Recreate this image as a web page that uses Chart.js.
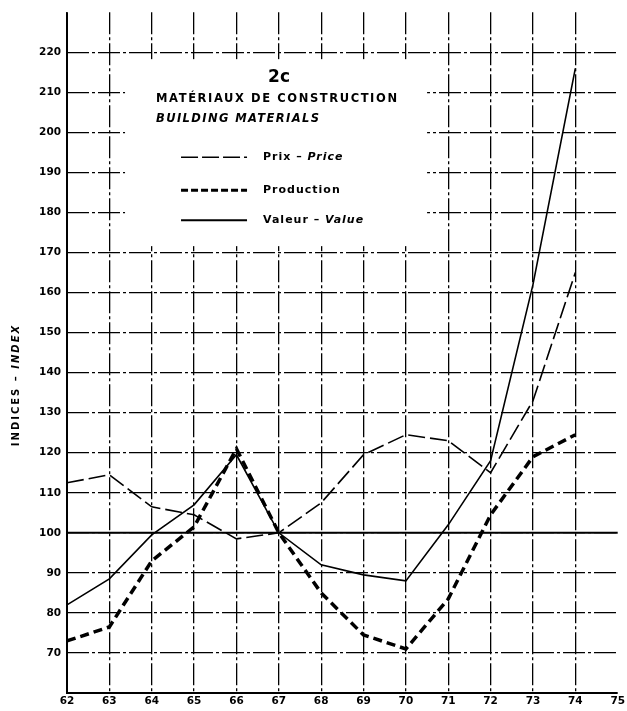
<!DOCTYPE html>
<html lang="fr">
<head>
  <meta charset="UTF-8">
  <title>2c - Matériaux de construction</title>
  <script src="https://cdn.jsdelivr.net/npm/chart.js"></script>
  <style>
    html, body { margin: 0; padding: 0; background: #fff; }
    #wrap { width: 627px; height: 711px; }
  </style>
</head>
<body>
  <div id="wrap"><canvas id="chart" width="627" height="711"></canvas></div>

  <script>
    // années 1962-1974
    const years = [62, 63, 64, 65, 66, 67, 68, 69, 70, 71, 72, 73, 74];
    const prix = [112.5, 114.5, 106.5, 104.5, 98.5, 100, 107.5, 119.5, 124.5, 123, 115, 133, 165];
    const production = [73, 76.5, 93, 101.5, 121, 100, 85, 74.5, 71, 83.5, 104.5, 119, 124.5];
    const valeur = [82, 88.5, 99.5, 107, 119.5, 100, 92, 89.5, 88, 102, 118, 162, 216];

    const yTicks = [70, 80, 90, 100, 110, 120, 130, 140, 150, 160, 170, 180, 190, 200, 210, 220];

    const toPts = arr => arr.map((v, i) => ({ x: years[i], y: v }));
    const FONT = '"DejaVu Sans", Arial, sans-serif';

    // cadre blanc de la légende, axes pleins, ligne 100 et titre de l'axe
    const decorPlugin = {
      id: 'decor',
      beforeDatasetsDraw(chart) {
        const { ctx, chartArea: a, scales: { x, y } } = chart;
        ctx.save();
        // ligne 100 pleine
        ctx.strokeStyle = '#000';
        ctx.lineWidth = 2;
        ctx.beginPath();
        ctx.moveTo(a.left, y.getPixelForValue(100));
        ctx.lineTo(a.right, y.getPixelForValue(100));
        ctx.stroke();
        // axes
        ctx.lineWidth = 2;
        ctx.beginPath();
        ctx.moveTo(a.left, a.top);
        ctx.lineTo(a.left, a.bottom);
        ctx.lineTo(a.right, a.bottom);
        ctx.stroke();

        // cadre de légende
        const bx0 = x.getPixelForValue(63.37), bx1 = x.getPixelForValue(70.5);
        const by0 = y.getPixelForValue(218.3), by1 = y.getPixelForValue(171.6);
        ctx.fillStyle = '#fff';
        ctx.fillRect(bx0, by0, bx1 - bx0, by1 - by0);

        ctx.fillStyle = '#000';
        ctx.textBaseline = 'middle';
        ctx.textAlign = 'center';
        ctx.font = 'bold 17px ' + FONT;
        ctx.fillText('2c', bx0 + 154, by0 + 18);
        ctx.textAlign = 'left';
        ctx.font = 'bold 11.5px ' + FONT;
        ctx.letterSpacing = '1.6px';
        ctx.fillText('MATÉRIAUX DE CONSTRUCTION', bx0 + 31, by0 + 40);
        ctx.font = 'italic bold 11.5px ' + FONT;
        ctx.letterSpacing = '1.4px';
        ctx.fillText('BUILDING MATERIALS', bx0 + 31, by0 + 60);

        const rows = [
          { y: 98, dash: [17, 4], w: 1.5, a: 'Prix – ', b: 'Price' },
          { y: 131, dash: [7, 3], w: 3, a: 'Production', b: '' },
          { y: 161, dash: [], w: 2, a: 'Valeur – ', b: 'Value' }
        ];
        ctx.letterSpacing = '1px';
        rows.forEach(r => {
          ctx.lineWidth = r.w;
          ctx.setLineDash(r.dash);
          ctx.beginPath();
          ctx.moveTo(bx0 + 56, by0 + r.y);
          ctx.lineTo(bx0 + 122, by0 + r.y);
          ctx.stroke();
          ctx.setLineDash([]);
          ctx.font = 'bold 11px ' + FONT;
          ctx.fillText(r.a, bx0 + 138, by0 + r.y);
          const wa = ctx.measureText(r.a).width;
          ctx.font = 'italic bold 11px ' + FONT;
          ctx.fillText(r.b, bx0 + 138 + wa, by0 + r.y);
        });

        // titre de l'axe vertical
        ctx.translate(16, 385);
        ctx.rotate(-Math.PI / 2);
        ctx.letterSpacing = '2px';
        ctx.textAlign = 'left';
        const t1 = 'INDICES – ', t2 = 'INDEX';
        ctx.font = 'bold 10px ' + FONT;
        const w1 = ctx.measureText(t1).width;
        ctx.font = 'italic bold 10px ' + FONT;
        const w2 = ctx.measureText(t2).width;
        const start = -(w1 + w2) / 2;
        ctx.font = 'bold 10px ' + FONT;
        ctx.fillText(t1, start, 0);
        ctx.font = 'italic bold 10px ' + FONT;
        ctx.fillText(t2, start + w1, 0);
        ctx.restore();
      }
    };

    new Chart(document.getElementById('chart').getContext('2d'), {
      type: 'line',
      data: {
        datasets: [
          {
            label: 'Prix – Price',
            data: toPts(prix),
            borderColor: '#000',
            borderWidth: 1.6,
            borderDash: [17, 5],
            pointRadius: 0,
            tension: 0
          },
          {
            label: 'Production',
            data: toPts(production),
            borderColor: '#000',
            borderWidth: 3.5,
            borderDash: [9, 5],
            pointRadius: 0,
            tension: 0
          },
          {
            label: 'Valeur – Value',
            data: toPts(valeur),
            borderColor: '#000',
            borderWidth: 1.6,
            pointRadius: 0,
            tension: 0
          }
        ]
      },
      options: {
        responsive: false,
        animation: false,
        layout: { padding: { top: 10, right: 6, left: 0, bottom: 0 } },
        plugins: {
          legend: { display: false },
          tooltip: { enabled: false }
        },
        scales: {
          x: {
            type: 'linear',
            min: 62,
            max: 75,
            afterFit: s => { s.height = 18; },
            ticks: {
              stepSize: 1,
              padding: 2,
              color: '#000',
              font: { family: FONT, size: 10.5, weight: 'bold' },
              callback: v => String(v)
            },
            grid: {
              color: c => (c.tick && c.tick.value === 75 ? 'rgba(0,0,0,0)' : '#000'),
              lineWidth: 1.3,
              drawTicks: false
            },
            border: { display: false, dash: [22, 3, 3, 3] }
          },
          y: {
            min: 60,
            max: 230,
            afterFit: s => { s.width = 67; },
            afterBuildTicks: s => { s.ticks = yTicks.map(v => ({ value: v })); },
            ticks: {
              padding: 6,
              color: '#000',
              font: { family: FONT, size: 10.5, weight: 'bold' },
              callback: v => String(v)
            },
            grid: {
              color: '#000',
              lineWidth: 1.3,
              drawTicks: false
            },
            border: { display: false, dash: [22, 3, 3, 3] }
          }
        }
      },
      plugins: [decorPlugin]
    });
  </script>
</body>
</html>
